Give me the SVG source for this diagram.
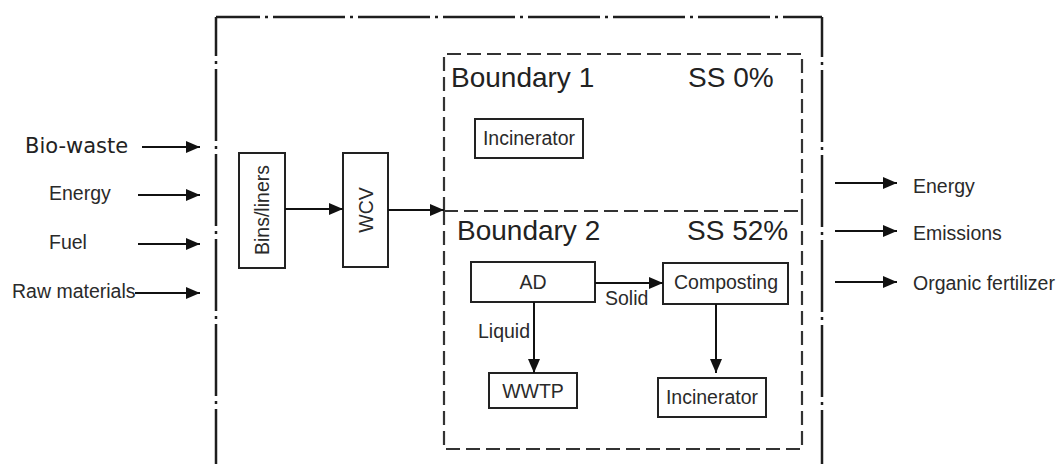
<svg xmlns="http://www.w3.org/2000/svg" width="1060" height="464" viewBox="0 0 1060 464">
<style>
.outer{fill:none;stroke:#1e1e1e;stroke-width:2.5;stroke-dasharray:72 5 3 5}
.inner{fill:none;stroke:#333;stroke-width:2.2;stroke-dasharray:14 6}
.box{fill:#fff;stroke:#222;stroke-width:2}
.conn{fill:none;stroke:#111;stroke-width:2;marker-end:url(#ah)}
.t{font-family:"Liberation Sans",Arial,sans-serif;font-size:19.5px;fill:#2a2a2a}
.big{font-family:"Liberation Sans",Arial,sans-serif;font-size:28px;fill:#222}
.bio{font-family:"DejaVu Sans",Verdana,sans-serif;font-size:21px;fill:#222}
</style>
<defs>
<marker id="ah" markerUnits="userSpaceOnUse" markerWidth="14" markerHeight="12" refX="14" refY="6" orient="auto">
<path d="M0,0 L14,6 L0,12 z" fill="#111"/>
</marker>
</defs>
<rect width="1060" height="464" fill="#fff"/>
<g id="outer-boundary">
<line class="outer" x1="216" y1="17" x2="216" y2="464" stroke-dashoffset="33"/>
<line class="outer" x1="216" y1="17" x2="822" y2="17" stroke-dashoffset="28"/>
<line class="outer" x1="822" y1="17" x2="822" y2="464" stroke-dashoffset="32"/>
</g>
<g id="boundary1">
<path class="inner" d="M444,211 L444,54 L802,54 L802,211"/>
<text class="big" x="451" y="87">Boundary 1</text>
<text class="big" x="688" y="87">SS 0%</text>
</g>
<g id="boundary2">
<path class="inner" d="M444,211 L444,449 L802,449 L802,211"/>
<line class="inner" x1="444" y1="211" x2="802" y2="211"/>
<text class="big" x="457" y="240">Boundary 2</text>
<text class="big" x="687" y="240">SS 52%</text>
</g>
<g id="incinerator1">
<rect class="box" x="475" y="119" width="108" height="39"/>
<text class="t" x="529" y="145" text-anchor="middle">Incinerator</text>
</g>
<g id="bins">
<rect class="box" x="239" y="153" width="46" height="115"/>
<text class="t" x="262" y="210" text-anchor="middle" dominant-baseline="central" transform="rotate(-90 262 210)">Bins/liners</text>
</g>
<g id="wcv">
<rect class="box" x="343" y="153" width="45" height="114"/>
<text class="t" x="366" y="210" text-anchor="middle" dominant-baseline="central" transform="rotate(-90 366 210)">WCV</text>
</g>
<g id="ad">
<rect class="box" x="471" y="262" width="124" height="40"/>
<text class="t" x="533" y="289" text-anchor="middle">AD</text>
</g>
<g id="composting">
<rect class="box" x="663" y="263" width="125" height="41"/>
<text class="t" x="726" y="289" text-anchor="middle">Composting</text>
</g>
<g id="wwtp">
<rect class="box" x="489" y="373" width="88" height="35"/>
<text class="t" x="533" y="398" text-anchor="middle">WWTP</text>
</g>
<g id="incinerator2">
<rect class="box" x="658" y="378" width="108" height="39"/>
<text class="t" x="712" y="404" text-anchor="middle">Incinerator</text>
</g>
<g id="inputs">
<text class="bio" x="25" y="153">Bio-waste</text>
<text class="t" x="49" y="200">Energy</text>
<text class="t" x="49" y="249">Fuel</text>
<text class="t" x="12" y="298">Raw materials</text>
</g>
<g id="outputs">
<text class="t" x="913" y="193">Energy</text>
<text class="t" x="913" y="240">Emissions</text>
<text class="t" x="913" y="290">Organic fertilizer</text>
</g>
<g id="connectors">
<line class="conn" x1="142" y1="147" x2="200" y2="147"/>
<line class="conn" x1="138" y1="195" x2="200" y2="195"/>
<line class="conn" x1="138" y1="244" x2="200" y2="244"/>
<line class="conn" x1="135" y1="293" x2="200" y2="293"/>
<line class="conn" x1="285" y1="209" x2="343" y2="209"/>
<line class="conn" x1="388" y1="210" x2="444" y2="210"/>
<line class="conn" x1="595" y1="283" x2="663" y2="283"/>
<line class="conn" x1="534" y1="302" x2="534" y2="373"/>
<line class="conn" x1="716" y1="304" x2="716" y2="373"/>
<line class="conn" x1="835" y1="183" x2="897" y2="183"/>
<line class="conn" x1="835" y1="231" x2="897" y2="231"/>
<line class="conn" x1="835" y1="282" x2="897" y2="282"/>
<text class="t" x="605" y="305">Solid</text>
<text class="t" x="478" y="338">Liquid</text>
</g>
</svg>
